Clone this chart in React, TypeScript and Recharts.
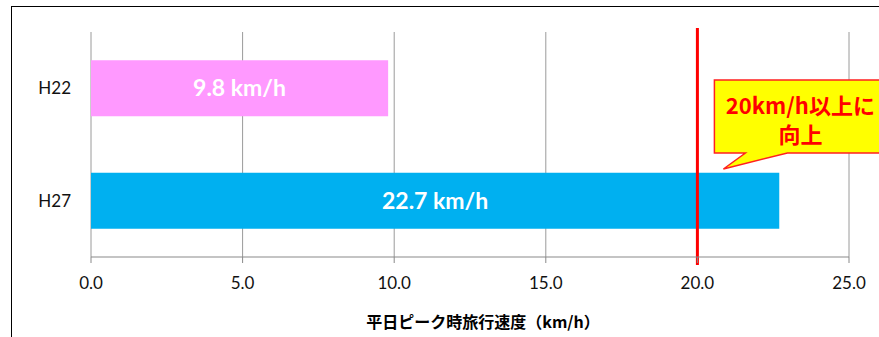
import { BarChart, Bar, XAxis, YAxis, CartesianGrid, Cell, LabelList, ReferenceLine } from 'recharts';

// 平日ピーク時旅行速度
const years = ['H22', 'H27'];
const speeds = [9.8, 22.7];
const barColors = ['#FF99FF', '#00B0F0'];
const speedTicks = [0, 5, 10, 15, 20, 25];
const target = 20;
const calloutLines = ['20km/h以上に', '向上'];

const rows = years.map((year, i) => ({ year, speed: speeds[i] }));

const LATIN = 'Lato, "Noto Sans", sans-serif';
const CJK = '"Noto Sans CJK JP", sans-serif';

// red target line, drawn a little past the plot edges, plus the speech-bubble note
function TargetLine(props: any) {
  const { x1, y1, y2 } = props;
  const lx = x1;
  const top = Math.min(y1, y2);
  const bottom = Math.max(y1, y2);
  const bx = lx + 17;
  const by = top + 48;
  const bubble = `M${bx},${by} H${bx + 174} V${by + 73} H${lx + 90} L${lx + 26},${by + 89} L${lx + 48},${by + 73} H${bx} Z`;
  return (
    <g>
      <line x1={lx} x2={lx} y1={top - 4} y2={bottom + 8} stroke="#FF0000" strokeWidth={3} />
      <path d={bubble} fill="#FFFF00" stroke="#FF2020" strokeWidth={1.5} />
      {calloutLines.map((t, i) => (
        <text
          key={t}
          x={lx + 103}
          y={by + 24 + i * 29}
          textAnchor="middle"
          dominantBaseline="central"
          fill="#FF0000"
          fontFamily={CJK}
          fontWeight={700}
          fontSize={22}
        >
          {t}
        </text>
      ))}
    </g>
  );
}

export default function App() {
  return (
    <div style={{ position: 'fixed', left: 0, top: 0, width: 879, height: 337, overflow: 'hidden', background: '#fff' }}>
      <div
        style={{
          position: 'absolute',
          left: 11,
          top: 6,
          width: 960,
          height: 400,
          border: '1.5px solid #000',
        }}
      />
      <div style={{ position: 'absolute', left: 0, top: 0 }}>
        <BarChart
          width={879}
          height={337}
          data={rows}
          layout="vertical"
          margin={{ top: 32, right: 30, bottom: 50, left: 31 }}
          barCategoryGap="25%"
        >
          <CartesianGrid horizontal={false} stroke="#9a9a9a" strokeWidth={1} />
          <XAxis
            type="number"
            domain={[0, 25]}
            ticks={speedTicks}
            tickFormatter={(v: number) => v.toFixed(1)}
            height={30}
            tickSize={6}
            tickMargin={14}
            axisLine={{ stroke: '#898989' }}
            tickLine={{ stroke: '#898989' }}
            tick={{ fill: '#111', fontSize: 17, fontFamily: LATIN }}
            label={{
              value: '平日ピーク時旅行速度（km/h）',
              position: 'bottom',
              offset: 30,
              dx: 13,
              fill: '#000',
              fontSize: 16,
              fontWeight: 700,
              fontFamily: CJK,
            }}
          />
          <YAxis
            yAxisId="edge"
            type="number"
            domain={[0, 2]}
            ticks={[0, 1, 2]}
            width={0}
            tick={false}
            tickSize={5}
            axisLine={{ stroke: '#898989' }}
            tickLine={{ stroke: '#898989' }}
          />
          <YAxis
            type="category"
            dataKey="year"
            width={60}
            axisLine={false}
            tickLine={false}
            tickMargin={14}
            tick={{ fill: '#111', fontSize: 17, fontFamily: LATIN }}
          />
          <Bar dataKey="speed" isAnimationActive={false}>
            {rows.map((r, i) => (
              <Cell key={r.year} fill={barColors[i]} />
            ))}
            <LabelList
              dataKey="speed"
              position="center"
              formatter={(v: any) => `${v} km/h`}
              fill="#fff"
              fontSize={23}
              fontWeight={700}
              fontFamily={LATIN}
            />
          </Bar>
          <ReferenceLine x={target} stroke="#FF0000" shape={TargetLine} />
        </BarChart>
      </div>
    </div>
  );
}
